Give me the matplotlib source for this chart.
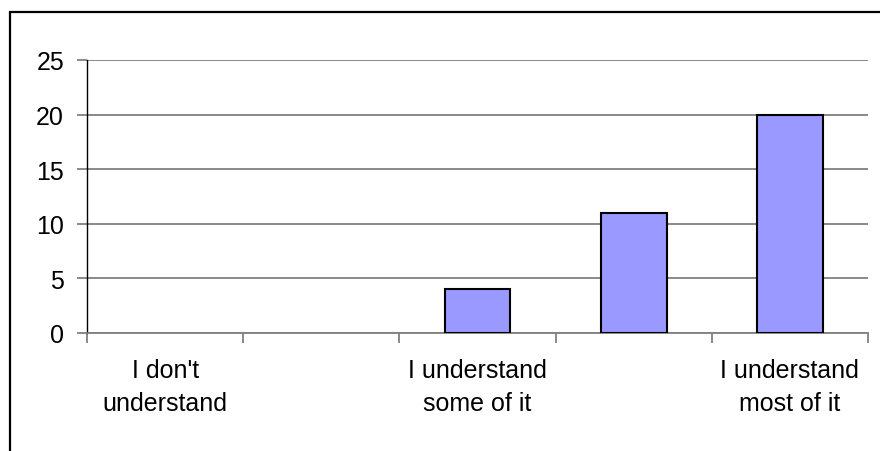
import numpy as np
import matplotlib.pyplot as plt
from matplotlib.patches import Rectangle

plt.rcParams['font.family'] = ['Liberation Sans', 'DejaVu Sans']

categories = ["I don't\nunderstand", "", "I understand\nsome of it", "", "I understand\nmost of it"]
counts = [0, 0, 4, 11, 20]
yticks = [0, 5, 10, 15, 20, 25]

fig = plt.figure(figsize=(8.8, 4.52), dpi=100)
ax = fig.add_axes([87/880, (452-334)/452, (868-87)/880, (334-61)/452])

x = np.arange(len(categories))
bars = ax.bar(x, counts, width=0.42, color='#9999FF', edgecolor='black', linewidth=1.5, zorder=3)
for b, v in zip(bars, counts):
    if v == 0:
        b.set_visible(False)

ax.set_xlim(-0.5, len(categories) - 0.5)
ax.set_ylim(0, 25)
ax.set_yticks(yticks)
ax.yaxis.grid(True, color='#808080', linewidth=1.3, zorder=0)
ax.set_axisbelow(True)

ax.set_xticks(x)
ax.set_xticklabels(categories, fontsize=18, linespacing=1.49)
ax.tick_params(axis='x', which='major', length=0, pad=18)
ax.set_xticks(np.arange(-0.5, len(categories)), minor=True)
ax.tick_params(axis='x', which='minor', length=7, width=1.3, color='#808080')
ax.tick_params(axis='y', length=7, width=1.3, color='#808080', labelsize=18, pad=9.5)

for s in ['top', 'right']:
    ax.spines[s].set_visible(False)
ax.spines['bottom'].set_color('#808080')
ax.spines['bottom'].set_linewidth(1.3)
ax.spines['left'].set_color('black')
ax.spines['left'].set_linewidth(1.0)

# outer chart border (cut off at right and bottom)
fig.patches.append(Rectangle((10/880, -0.1), 1.0, (452-13)/452 + 0.1,
                             transform=fig.transFigure, fill=False,
                             edgecolor='black', linewidth=1.6))

fig.savefig('out.png', dpi=100)
